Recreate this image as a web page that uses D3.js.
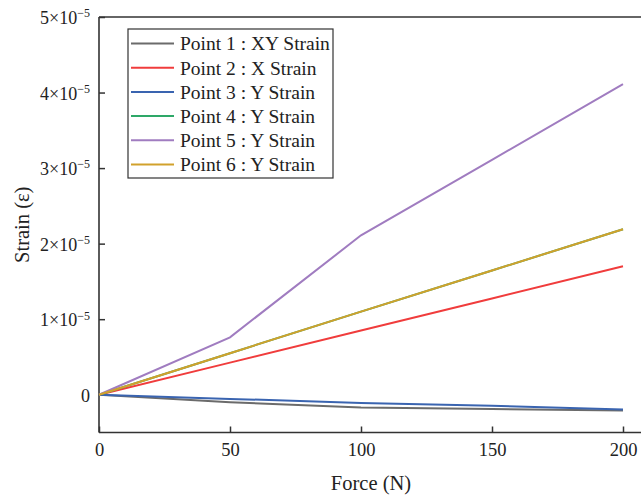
<!DOCTYPE html>
<html>
<head>
<meta charset="utf-8">
<script src="https://cdn.jsdelivr.net/npm/d3@7"></script>
<style>
  body { margin: 0; background: #fff; }
  svg { display: block; font-family: "Liberation Serif", "Times New Roman", serif; }
</style>
</head>
<body>
<div id="chart"></div>
<script>
// force values (N)
const forces = [0, 50, 100, 150, 200];

// strain series
const point1 = [0, -1.0e-6, -1.68e-6, -1.88e-6, -2.1e-6];
const point2 = [0, 4.25e-6, 8.5e-6, 1.275e-5, 1.70e-5];
const point3 = [0, -0.55e-6, -1.08e-6, -1.45e-6, -1.95e-6];
const point4 = [0, 5.5e-6, 1.10e-5, 1.645e-5, 2.19e-5];
const point5 = [0, 7.6e-6, 2.11e-5, 3.11e-5, 4.11e-5];
const point6 = [0, 5.5e-6, 1.10e-5, 1.645e-5, 2.19e-5];

const seriesNames = [
    "Point 1 : XY Strain",
    "Point 2 : X Strain",
    "Point 3 : Y Strain",
    "Point 4 : Y Strain",
    "Point 5 : Y Strain",
    "Point 6 : Y Strain"
];
const seriesValues = [point1, point2, point3, point4, point5, point6];
const seriesColors = ["#6b6b6b", "#f03c3c", "#3a64b0", "#2ea868", "#a07cc0", "#d1a12c"];

const xTicks = [0, 50, 100, 150, 200];
const yTicks = [0, 1e-5, 2e-5, 3e-5, 4e-5, 5e-5];

const width = 641, height = 498;
const margin = {left: 99, top: 17, bottom: 66};

const svg = d3.select("#chart").append("svg")
    .attr("width", width)
    .attr("height", height);

let x = d3.scaleLinear().domain([0, 200]).range([margin.left, 623]);
let y = d3.scaleLinear().domain([-5e-6, 5e-5]).range([height - margin.bottom + 0.5, margin.top]);

// tick label like 5×10^-5
function sciLabel(sel, v) {
    if (v === 0) {
        sel.text("0");
        return;
    }
    let m = Math.round(v / 1e-5);
    sel.text(m + "\u00d710");
    sel.append("tspan")
        .attr("dy", "-0.55em")
        .attr("font-size", "12px")
        .text("\u22125");
}

// minor ticks
let gx = svg.append("g").attr("transform", `translate(0,${y(-5e-6)})`);
gx.call(d3.axisBottom(x).tickValues(d3.range(25, 200, 50)).tickSize(-3.5).tickFormat(""));
gx.call(d3.axisBottom(x).tickValues(xTicks).tickSize(-6).tickPadding(10).tickFormat(d3.format("d")));
gx.selectAll(".domain").remove();
gx.selectAll("line").attr("stroke", "#333").attr("stroke-width", 1.5);
gx.selectAll("text").attr("font-size", "18.5px").attr("fill", "#222")
    .attr("font-family", "Liberation Serif, serif");

let gy = svg.append("g").attr("transform", `translate(${margin.left},0)`);
gy.call(d3.axisLeft(y).tickValues([-5e-6, 5e-6, 1.5e-5, 2.5e-5, 3.5e-5, 4.5e-5]).tickSize(-3.5).tickFormat(""));
let yAxis = d3.axisLeft(y).tickValues(yTicks).tickSize(-6).tickPadding(9).tickFormat("");
gy.call(yAxis);
gy.selectAll(".domain").remove();
gy.selectAll("line").attr("stroke", "#333").attr("stroke-width", 1.5);
gy.selectAll(".tick").filter(d => yTicks.includes(d)).select("text")
    .attr("font-size", "18px").attr("fill", "#222")
    .attr("font-family", "Liberation Serif, serif")
    .attr("dy", "0.36em")
    .each(function (d) { sciLabel(d3.select(this), d); });

// frame: left, bottom and top (right side is cut off)
let frame = svg.append("g").attr("stroke", "#333").attr("stroke-width", 1.6).attr("fill", "none");
frame.append("line").attr("x1", margin.left).attr("x2", margin.left).attr("y1", y(5e-5)).attr("y2", y(-5e-6));
frame.append("line").attr("x1", margin.left).attr("x2", width).attr("y1", y(-5e-6)).attr("y2", y(-5e-6));
frame.append("line").attr("x1", margin.left).attr("x2", width).attr("y1", y(5e-5)).attr("y2", y(5e-5));

// lines
let line = d3.line().x((d, i) => x(forces[i])).y(d => y(d));
svg.append("g")
    .selectAll("path")
    .data(seriesValues)
    .join("path")
    .attr("d", line)
    .attr("fill", "none")
    .attr("stroke", (d, i) => seriesColors[i])
    .attr("stroke-width", 2);

// axis titles
svg.append("text")
    .attr("x", 371).attr("y", 490)
    .attr("text-anchor", "middle")
    .attr("font-size", "20.5px").attr("fill", "#222")
    .text("Force (N)");

svg.append("text")
    .attr("transform", `translate(29,${(y(5e-5) + y(-5e-6)) / 2}) rotate(-90)`)
    .attr("text-anchor", "middle")
    .attr("font-size", "20.5px").attr("fill", "#222")
    .text("Strain (\u03b5)");

// legend
let legend = svg.append("g").attr("transform", "translate(128,29)");
legend.append("rect")
    .attr("width", 205).attr("height", 149)
    .attr("fill", "#fff").attr("stroke", "#333").attr("stroke-width", 1.2);
let rows = legend.selectAll("g.row")
    .data(seriesNames)
    .join("g")
    .attr("class", "row")
    .attr("transform", (d, i) => `translate(0,${14.5 + i * 24.2})`);
rows.append("line")
    .attr("x1", 3).attr("x2", 46)
    .attr("stroke", (d, i) => seriesColors[i])
    .attr("stroke-width", 2);
rows.append("text")
    .attr("x", 52).attr("dy", "0.35em")
    .attr("font-size", "19.5px").attr("fill", "#222")
    .text(d => d);
</script>
</body>
</html>
